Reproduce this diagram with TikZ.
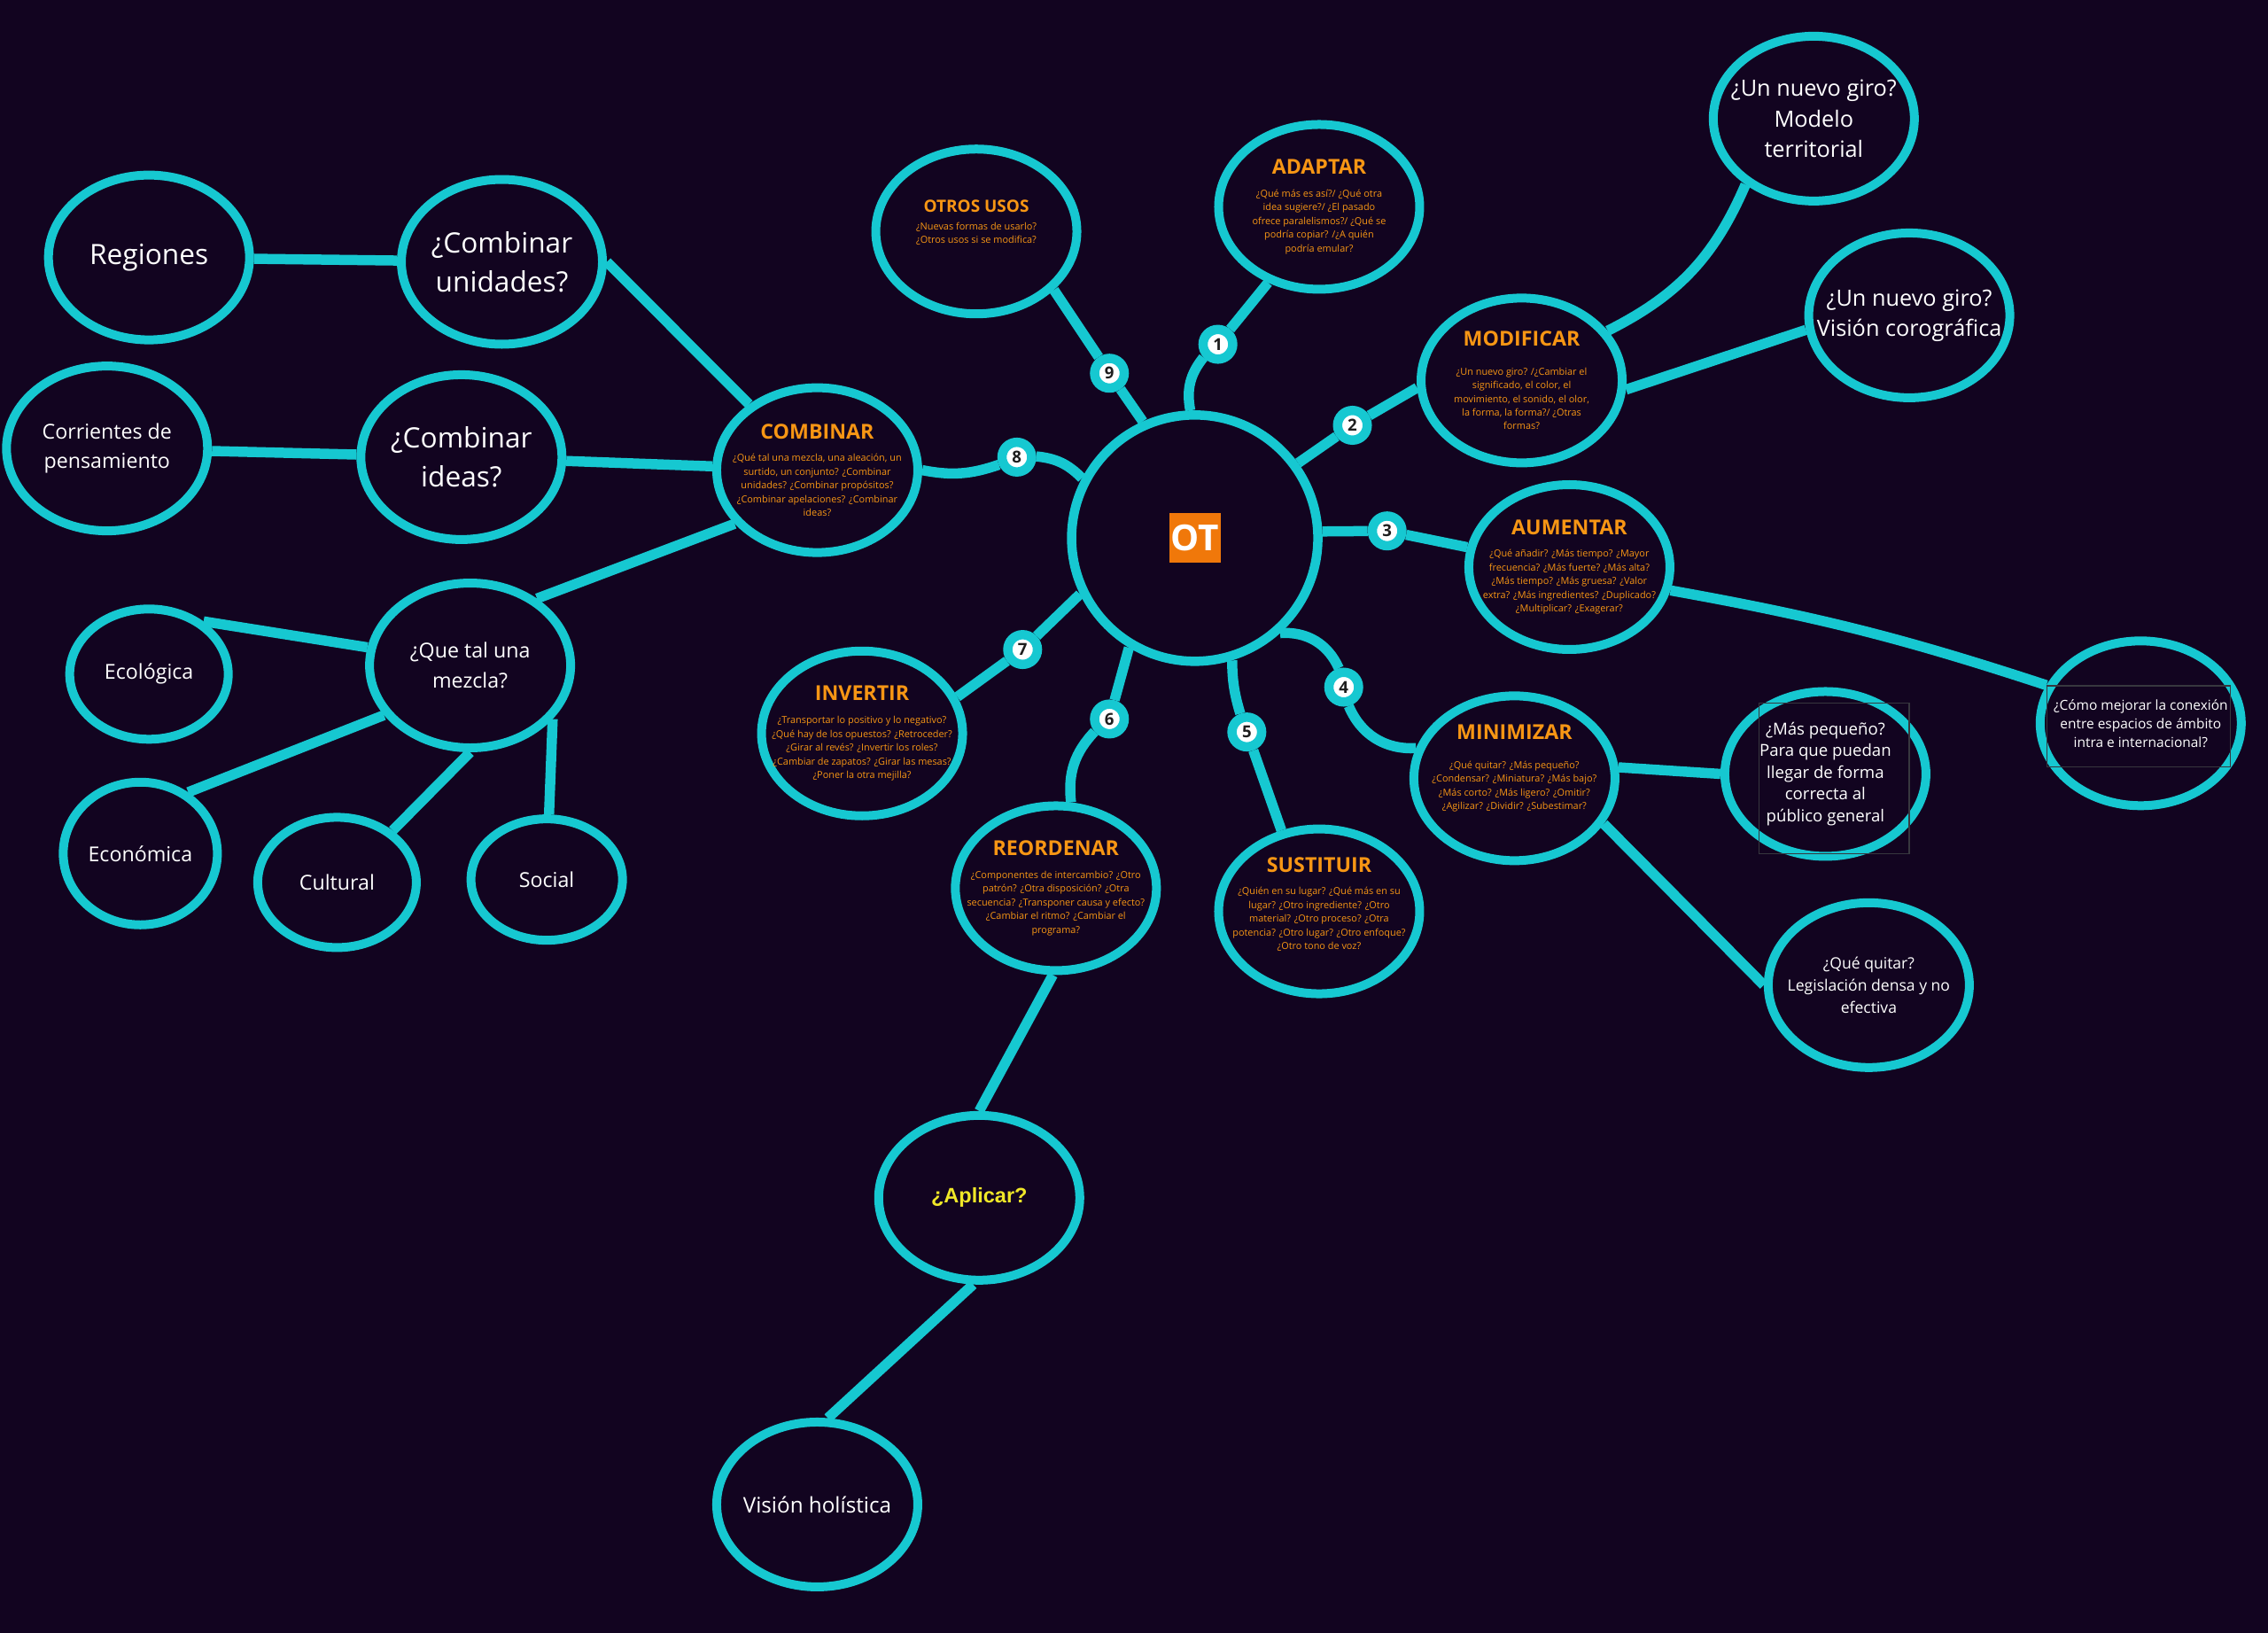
\documentclass[tikz,border=0pt]{standalone}
\usepackage{fontspec}
\setmainfont{Open Sans}
\newfontfamily\arialfont{Liberation Sans}
\usetikzlibrary{shapes.geometric}
\definecolor{bgcol}{RGB}{18,4,32}
\definecolor{cyanl}{RGB}{22,200,209}
\definecolor{orng}{RGB}{247,150,20}
\definecolor{otorange}{RGB}{240,120,10}
\definecolor{ylw}{RGB}{240,232,40}
\definecolor{numtxt}{RGB}{30,30,30}
\definecolor{boxline}{RGB}{55,55,62}
\newcommand{\branchtitle}[2][6.6]{{\bfseries\fontsize{#1}{8}\selectfont #2}}

\begin{document}
\begin{tikzpicture}[x=0.016327cm,y=-0.016327cm,
    hub/.style={circle,draw=cyanl,fill=bgcol,line width=0.105cm,minimum size=2.78cm,inner sep=0pt},
    bubble/.style={ellipse,draw=cyanl,fill=bgcol,line width=0.1cm,minimum width=2.27cm,minimum height=1.86cm,inner sep=0pt},
    link/.style={draw=cyanl,line width=0.115cm},
    numdot/.style={circle,fill=white,draw=cyanl,line width=0.105cm,minimum size=0.335cm,inner sep=0pt,text=numtxt,font=\bfseries\fontsize{5.3}{6}\selectfont},
    otlabel/.style={fill=otorange,text=white,font=\bfseries\fontsize{11.5}{12}\selectfont,minimum size=0.56cm,inner sep=0.5pt},
    qtext/.style={align=center,text=orng,font=\fontsize{3.1}{4.4}\selectfont},
    bigtxt/.style={align=center,text=white,font=\fontsize{9}{12.5}\selectfont},
    midtxt/.style={align=center,text=white,font=\fontsize{6.6}{9.5}\selectfont},
    rtxt/.style={align=center,text=white,font=\fontsize{7.2}{9.7}\selectfont},
    faintbox/.style={draw=boxline,line width=0.4pt}]
\fill[bgcol] (0,0) rectangle (1568,1128.8);
\useasboundingbox (0,0) rectangle (1568,1128.8);

\node[hub,label={[otlabel]center:OT}] (ot) at (826,372) {};

\node[bubble,label={[qtext]center:{\branchtitle{COMBINAR}\\[2.9pt]¿Qué tal una mezcla, una aleación, un\\surtido, un conjunto? ¿Combinar\\unidades? ¿Combinar propósitos?\\¿Combinar apelaciones? ¿Combinar\\ideas?}}] (combinar) at (565,325) {};
\node[bubble,label={[qtext,yshift=0.1cm]center:{\branchtitle[5.4]{OTROS USOS}\\[1.4pt]¿Nuevas formas de usarlo?\\¿Otros usos si se modifica?}}] (otros) at (675,160) {};
\node[bubble,label={[qtext]center:{\branchtitle{ADAPTAR}\\[2.9pt]¿Qué más es así?/ ¿Qué otra\\idea sugiere?/ ¿El pasado\\ofrece paralelismos?/ ¿Qué se\\podría copiar? /¿A quién\\podría emular?}}] (adaptar) at (912,143) {};
\node[bubble,label={[qtext]center:{\branchtitle{MODIFICAR}\\[4.9pt]¿Un nuevo giro? /¿Cambiar el\\significado, el color, el\\movimiento, el sonido, el olor,\\la forma, la forma?/ ¿Otras\\formas?}}] (modificar) at (1052,263) {};
\node[bubble,label={[qtext]center:{\branchtitle{AUMENTAR}\\[2.9pt]¿Qué añadir? ¿Más tiempo? ¿Mayor\\frecuencia? ¿Más fuerte? ¿Más alta?\\¿Más tiempo? ¿Más gruesa? ¿Valor\\extra? ¿Más ingredientes? ¿Duplicado?\\¿Multiplicar? ¿Exagerar?}}] (aumentar) at (1085,392) {};
\node[bubble,label={[qtext,yshift=0.11cm]center:{\branchtitle{MINIMIZAR}\\[4.9pt]¿Qué quitar? ¿Más pequeño?\\¿Condensar? ¿Miniatura? ¿Más bajo?\\¿Más corto? ¿Más ligero? ¿Omitir?\\¿Agilizar? ¿Dividir? ¿Subestimar?}}] (minimizar) at (1047,538) {};
\node[bubble,label={[qtext,yshift=0.08cm]center:{\branchtitle{SUSTITUIR}\\[2.9pt]¿Quién en su lugar? ¿Qué más en su\\lugar? ¿Otro ingrediente? ¿Otro\\material? ¿Otro proceso? ¿Otra\\potencia? ¿Otro lugar? ¿Otro enfoque?\\¿Otro tono de voz?}}] (sustituir) at (912,630) {};
\node[bubble,label={[qtext]center:{\branchtitle{REORDENAR}\\[2.9pt]¿Componentes de intercambio? ¿Otro\\patrón? ¿Otra disposición? ¿Otra\\secuencia? ¿Transponer causa y efecto?\\¿Cambiar el ritmo? ¿Cambiar el\\programa?}}] (reordenar) at (730,614) {};
\node[bubble,label={[qtext]center:{\branchtitle{INVERTIR}\\[2.9pt]¿Transportar lo positivo y lo negativo?\\¿Qué hay de los opuestos? ¿Retroceder?\\¿Girar al revés? ¿Invertir los roles?\\¿Cambiar de zapatos? ¿Girar las mesas?\\¿Poner la otra mejilla?}}] (invertir) at (596,507) {};

\node[bubble,label={[bigtxt]center:Regiones}] (regiones) at (103,178) {};
\node[bubble,label={[bigtxt]center:{¿Combinar\\unidades?}}] (unidades) at (347,181) {};
\node[bubble,label={[midtxt]center:{Corrientes de\\pensamiento}}] (corrientes) at (74,310) {};
\node[bubble,label={[bigtxt]center:{¿Combinar\\ideas?}}] (ideas) at (319,316) {};
\node[bubble,label={[midtxt]center:{¿Que tal una\\mezcla?}}] (mezcla) at (325,460) {};
\node[bubble,minimum width=1.79cm,minimum height=1.47cm,label={[midtxt]center:Ecológica}] (ecologica) at (103,466) {};
\node[bubble,minimum width=1.74cm,minimum height=1.61cm,label={[midtxt]center:Económica}] (economica) at (97,590) {};
\node[bubble,minimum width=1.79cm,minimum height=1.47cm,label={[midtxt]center:Cultural}] (cultural) at (233,610) {};
\node[bubble,minimum width=1.71cm,minimum height=1.37cm,label={[midtxt]center:Social}] (social) at (378,608) {};

\node[bubble,label={[rtxt]center:{¿Un nuevo giro?\\Modelo\\territorial}}] (territorial) at (1254,82) {};
\node[bubble,label={[rtxt]center:{¿Un nuevo giro?\\Visión corográfica}}] (corografica) at (1320,218) {};
\node[bubble,label={[align=center,text=white,font=\fontsize{4.4}{6}\selectfont]center:{¿Cómo mejorar la conexión\\entre espacios de ámbito\\intra e internacional?}}] (mejorar) at (1480,500) {};
\node[bubble,label={[align=center,text=white,font=\fontsize{5.3}{7}\selectfont]center:{¿Más pequeño?\\Para que puedan\\llegar de forma\\correcta al\\público general}}] (pequeno) at (1262,535) {};
\node[bubble,label={[align=center,text=white,font=\fontsize{5}{7.2}\selectfont]center:{¿Qué quitar?\\Legislación densa y no\\efectiva}}] (quitar) at (1292,681) {};
\node[bubble,label={[text=ylw,font=\arialfont\bfseries\fontsize{6.7}{8}\selectfont]center:{¿Aplicar?}}] (aplicar) at (677,828) {};
\node[bubble,label={[midtxt,font=\fontsize{6.9}{9}\selectfont]center:{Visión holística}}] (holistica) at (565,1040) {};

\draw[faintbox] (1216,486) rectangle (1320,590);
\draw[faintbox] (1415,474) rectangle (1542,530);

\foreach \i/\x/\y in {1/842/238,2/935/294,3/959/367,4/929/475,5/862/506,6/767/497,7/707/449,8/703/316,9/767/258}
    \node[numdot] (n\i) at (\x,\y) {\i};

\draw[link] (ot.114) -- (n9);
\draw[link] (n9) -- (otros.323);
\draw[link] (ot.92) to[bend left=25] (n1);
\draw[link] (n1) -- (adaptar.236);
\draw[link] (ot.36) -- (n2);
\draw[link] (n2) -- (modificar.184);
\draw[link] (ot.3) -- (n3);
\draw[link] (n3) -- (aumentar.169);
\draw[link] (ot.-48) to[bend left=35] (n4);
\draw[link] (n4) to[bend right=35] (minimizar.163);
\draw[link] (ot.-73) to[bend right=8] (n5);
\draw[link] (n5) -- (sustituir.115);
\draw[link] (ot.239) -- (n6);
\draw[link] (n6) to[bend right=25] (reordenar.80);
\draw[link] (ot.206) -- (n7);
\draw[link] (n7) -- (invertir.21);
\draw[link] (ot.152) to[bend right=20] (n8);
\draw[link] (n8) to[bend left=15] (combinar.0);

\draw[link] (regiones) -- (unidades);
\draw[link] (unidades.0) -- (combinar.136);
\draw[link] (corrientes) -- (ideas);
\draw[link] (ideas) -- (combinar);
\draw[link] (combinar.213) -- (mezcla.45);
\draw[link] (mezcla.170) -- (ecologica.44);
\draw[link] (mezcla.210) -- (economica.52);
\draw[link] (mezcla.270) -- (cultural.43);
\draw[link] (mezcla.327) -- (social.88);

\draw[link] (modificar.30) to[bend right=20] (territorial.224);
\draw[link] (modificar.-5) -- (corografica.188);
\draw[link] (aumentar.-13) to[bend left=4] (mejorar.158);
\draw[link] (minimizar.6) -- (pequeno.180);
\draw[link] (minimizar.-27) -- (quitar.180);
\draw[link] (reordenar.268) -- (aplicar.90);
\draw[link] (aplicar.266) -- (holistica.83);
\end{tikzpicture}
\end{document}
